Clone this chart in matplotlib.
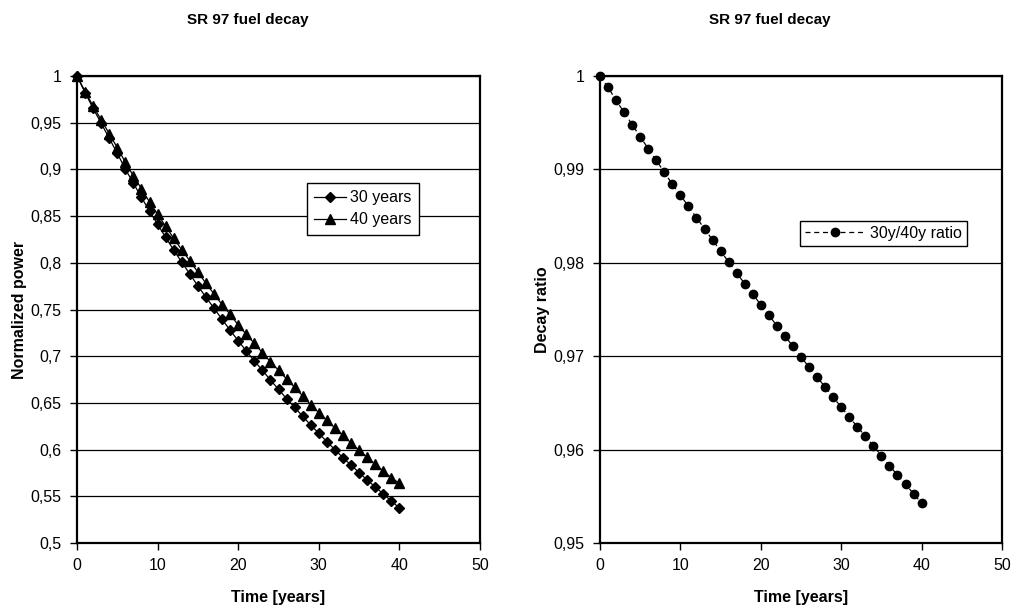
import matplotlib
matplotlib.use("Agg")
import matplotlib.pyplot as plt
from matplotlib.ticker import FuncFormatter, MultipleLocator

plt.rcParams["font.family"] = ["Liberation Sans", "DejaVu Sans"]

years = list(range(0, 41))

power_30y = [
    1.0, 0.9822, 0.9654, 0.9493, 0.9333, 0.9172, 0.9004, 0.8851, 0.8701, 0.8551,
    0.8412, 0.8273, 0.8137, 0.8005, 0.7880, 0.7752, 0.7632, 0.7513, 0.7395, 0.7277,
    0.7166, 0.7056, 0.6949, 0.6849, 0.6745, 0.6645, 0.6545, 0.6453, 0.6356, 0.6263,
    0.6174, 0.6085, 0.5999, 0.5913, 0.5835, 0.5753, 0.5675, 0.5600, 0.5525, 0.5450,
    0.5375,
]
power_40y = [
    1.0, 0.9834, 0.9679, 0.9530, 0.9382, 0.9232, 0.9075, 0.8931, 0.8792, 0.8651,
    0.8521, 0.8390, 0.8263, 0.8138, 0.8021, 0.7900, 0.7780, 0.7666, 0.7552, 0.7448,
    0.7334, 0.7234, 0.7138, 0.7038, 0.6941, 0.6849, 0.6756, 0.6667, 0.6574, 0.6481,
    0.6395, 0.6314, 0.6231, 0.6153, 0.6071, 0.5992, 0.5918, 0.5843, 0.5771, 0.5699,
    0.5639,
]
ratio = [
    1.0, 0.99879, 0.9974, 0.99611, 0.99479, 0.9935, 0.99222, 0.99097, 0.9897, 0.9884,
    0.98723, 0.98605, 0.98483, 0.98365, 0.98244, 0.98126, 0.98009, 0.97891, 0.97776, 0.97666,
    0.97550, 0.97438, 0.97327, 0.97216, 0.97106, 0.96991, 0.96884, 0.96777, 0.96670, 0.96560,
    0.96456, 0.96349, 0.96245, 0.96142, 0.96039, 0.95935, 0.95828, 0.95728, 0.95629, 0.95528,
    0.95425,
]

W, H = 1014, 606
fig = plt.figure(figsize=(W / 100, H / 100), dpi=100)


def px_axes(x0, y0, x1, y1):
    return fig.add_axes([x0 / W, 1 - y1 / H, (x1 - x0) / W, (y1 - y0) / H])


def comma(v, pos):
    s = f"{v:.2f}".rstrip("0").rstrip(".")
    return s.replace(".", ",")


def style(ax, ylo, yhi, ystep, ylabel):
    ax.set_xlim(0, 50)
    ax.set_ylim(ylo, yhi)
    ax.xaxis.set_major_locator(MultipleLocator(10))
    ax.yaxis.set_major_locator(MultipleLocator(ystep))
    ax.yaxis.set_major_formatter(FuncFormatter(comma))
    ax.grid(True, axis="y", color="black", linewidth=0.9)
    ax.set_axisbelow(True)
    for sp in ax.spines.values():
        sp.set_linewidth(1.6)
        sp.set_color("black")
    ax.tick_params(direction="out", length=5, width=1, labelsize=11.5, pad=6)
    ax.set_xlabel("Time [years]", fontsize=11.5, fontweight="bold")
    ax.set_ylabel(ylabel, fontsize=11.5, fontweight="bold")
    ax.xaxis.set_label_coords(0.5, -0.1)
    ax.yaxis.set_label_coords(-0.125, 0.5)


# left: normalized power
ax1 = px_axes(77, 76, 480, 543)
ax1.plot(years, power_30y, color="black", linewidth=0.9, marker="D",
         markersize=5, label="30 years", clip_on=False)
ax1.plot(years, power_40y, color="black", linewidth=0.9, marker="^",
         markersize=6.5, label="40 years", clip_on=False)
style(ax1, 0.5, 1.0, 0.05, "Normalized power")
ax1.legend(loc="upper left", bbox_to_anchor=(307 / W, 1 - 183 / H),
           bbox_transform=fig.transFigure, fontsize=11.5, frameon=True,
           fancybox=False, edgecolor="black", framealpha=1, borderaxespad=0,
           handlelength=2.0, borderpad=0.45, labelspacing=0.45, handletextpad=0.25)
fig.text(248 / W, 1 - 20 / H, "SR 97 fuel decay", ha="center", va="center",
         fontsize=11, fontweight="bold")

# right: ratio
ax2 = px_axes(600, 76, 1002, 543)
ax2.plot(years, ratio, color="black", linewidth=0.9, linestyle=(0, (4, 3)),
         marker="o", markersize=6, label="30y/40y ratio", clip_on=False)
style(ax2, 0.95, 1.0, 0.01, "Decay ratio")
ax2.legend(loc="upper left", bbox_to_anchor=(800 / W, 1 - 221 / H),
           bbox_transform=fig.transFigure, fontsize=11.5, frameon=True,
           fancybox=False, edgecolor="black", framealpha=1, borderaxespad=0,
           handlelength=3.8, borderpad=0.3, handletextpad=0.3)
fig.text(770 / W, 1 - 20 / H, "SR 97 fuel decay", ha="center", va="center",
         fontsize=11, fontweight="bold")

fig.savefig("out.png", dpi=100)
